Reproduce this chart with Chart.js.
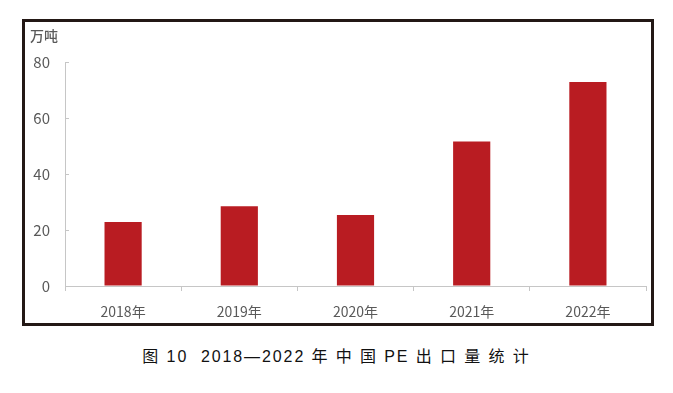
<!DOCTYPE html>
<html>
<head>
<meta charset="utf-8">
<script src="https://cdn.jsdelivr.net/npm/chart.js@4.4.0/dist/chart.umd.min.js"></script>
<style>
  html, body { margin: 0; padding: 0; background: #ffffff; }
  body { width: 673px; height: 393px; position: relative; overflow: hidden; }
  #frame { position: absolute; left: 22px; top: 19px; width: 626px; height: 301px; border: 3px solid #231815; }
  #frame canvas { display: block; }
  #caption { position: absolute; left: 0; width: 673px; top: 343px; text-align: center;
    font-family: "Liberation Sans", "Noto Sans CJK SC", sans-serif; font-size: 16px; color: #111; letter-spacing: 1.9px; white-space: pre; }
</style>
</head>
<body>
<div id="frame"><canvas id="c" width="626" height="301"></canvas></div>
<div id="caption">图 10  2018—2022 年 中 国 PE 出 口 量 统 计</div>
<script>
const categories = ["2018年", "2019年", "2020年", "2021年", "2022年"];
const exportVolume = [22.9, 28.5, 25.4, 51.6, 72.9];
const yTicks = [0, 20, 40, 60, 80];
const unitLabel = "万吨";

const axisColor = "#c6c6c6";
const labelColor = "#595959";

const extras = {
  id: "extras",
  afterDraw(chart) {
    const ctx = chart.ctx;
    const y = chart.scales.y;
    ctx.save();
    ctx.strokeStyle = axisColor;
    ctx.lineWidth = 1;
    yTicks.forEach(v => {
      const py = Math.round(y.getPixelForValue(v)) + 0.5;
      ctx.beginPath();
      ctx.moveTo(y.right, py);
      ctx.lineTo(y.right + 4, py);
      ctx.stroke();
    });
    ctx.fillStyle = labelColor;
    ctx.font = "500 14px 'Noto Sans CJK SC'";
    ctx.textAlign = "left";
    ctx.textBaseline = "middle";
    ctx.fillText(unitLabel, 5, 14);
    ctx.restore();
  }
};

new Chart(document.getElementById("c"), {
  type: "bar",
  data: {
    labels: categories,
    datasets: [{
      data: exportVolume,
      backgroundColor: "#b91c22",
      borderWidth: 0,
      categoryPercentage: 1,
      barPercentage: 0.32
    }]
  },
  options: {
    responsive: false,
    animation: false,
    events: [],
    layout: { padding: { top: 40, right: 5, bottom: 0, left: 0 } },
    plugins: { legend: { display: false }, tooltip: { enabled: false } },
    scales: {
      x: {
        afterFit(scale) { scale.height = 37; },
        grid: { offset: true, drawOnChartArea: false, drawTicks: true, tickLength: 5, color: axisColor },
        border: { display: true, color: axisColor },
        ticks: { color: labelColor, padding: 12, font: { family: "'Noto Sans CJK SC'", size: 14 } }
      },
      y: {
        min: 0, max: 80,
        afterBuildTicks(scale) { scale.ticks = yTicks.map(v => ({ value: v })); },
        afterFit(scale) { scale.width = 40; },
        grid: { drawOnChartArea: false, drawTicks: false },
        border: { display: true, color: axisColor },
        ticks: { color: labelColor, padding: 15, font: { family: "'Noto Sans CJK SC'", size: 15 } }
      }
    }
  },
  plugins: [extras]
});
</script>
</body>
</html>
